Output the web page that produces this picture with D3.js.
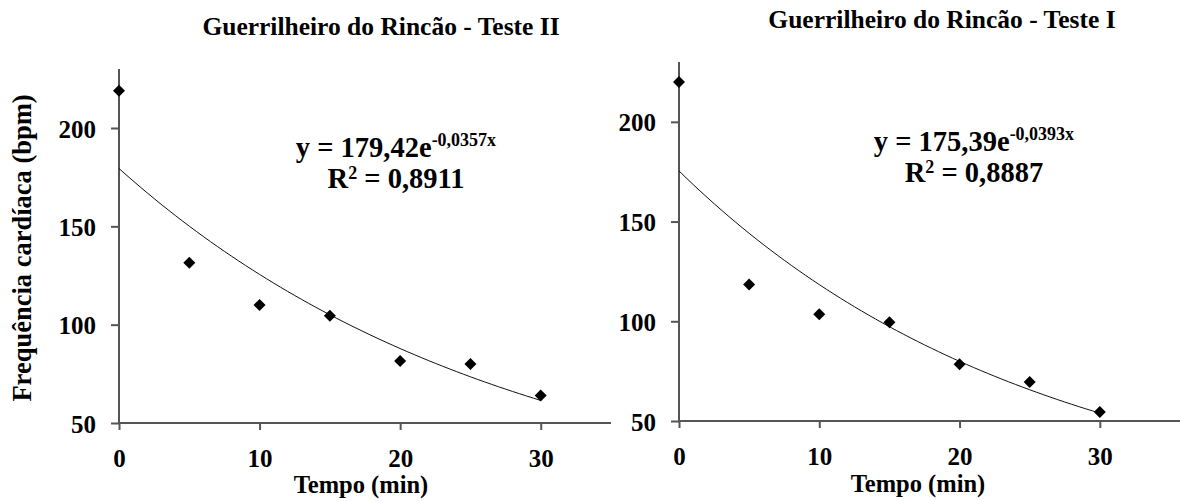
<!DOCTYPE html>
<html><head><meta charset="utf-8">
<script src="https://cdn.jsdelivr.net/npm/d3@7"></script>
<style>
body{margin:0;background:#fff;}
</style></head>
<body><svg id="c" width="1180" height="501"></svg>
<script>
// Data
const tempo = [0, 5, 10, 15, 20, 25, 30];
const testeII = [219, 131.5, 110, 104.5, 81.5, 80, 64];
const testeI = [220, 118.5, 103.5, 99.5, 78.5, 69.5, 54.5];
const yTicks = [50, 100, 150, 200];
const xTicks = [0, 10, 20, 30];
const fitII = {a: 179.42, b: -0.0357, aLbl: "179,42", bLbl: "-0,0357x", r2: "0,8911"};
const fitI = {a: 175.39, b: -0.0393, aLbl: "175,39", bLbl: "-0,0393x", r2: "0,8887"};

const FONT = "'Liberation Serif'";
const svg = d3.select("#c");
const axisColor = "#555";

function styleText(sel, size) {
  return sel.style("font-family", FONT).style("font-weight", "bold")
    .style("font-size", size + "px").attr("fill", "#000");
}

const panels = [
  {title: "Guerrilheiro do Rincão - Teste II", vals: testeII, fit: fitII,
   xr: [119, 611], xd: [0, 35], yr: [423, 69], titleX: 381, titleY: 35,
   eqX: 396, eqY1: 157, eqY2: 188, tickY: 467, xlabX: 361, xlabY: 493, ylab: true},
  {title: "Guerrilheiro do Rincão - Teste I", vals: testeI, fit: fitI,
   xr: [679, 1184], xd: [0, 36], yr: [421, 62], titleX: 942, titleY: 28,
   eqX: 974, eqY1: 151, eqY2: 182, tickY: 465, xlabX: 918, xlabY: 492, ylab: false}
];

panels.forEach(p => {
  const x = d3.scaleLinear().domain(p.xd).range(p.xr);
  const y = d3.scaleLinear().domain([50, 230]).range(p.yr);
  const g = svg.append("g");

  // y axis
  const ya = g.append("g").attr("transform", `translate(${p.xr[0]},0)`)
    .call(d3.axisLeft(y).tickValues(yTicks).tickSize(8).tickPadding(15).tickFormat(d3.format("d")));
  ya.select(".domain").attr("d", `M0,${p.yr[0]}V${p.yr[1]}`);
  ya.selectAll("path,line").attr("stroke", axisColor).attr("stroke-width", 2);
  styleText(ya.selectAll("text"), 25).attr("dy", "0.36em");

  // x axis
  const xa = g.append("g").attr("transform", `translate(0,${p.yr[0]})`)
    .call(d3.axisBottom(x).tickValues(xTicks).tickSize(7).tickPadding(0).tickFormat(d3.format("d")));
  xa.select(".domain").attr("d", `M${p.xr[0]},0H${p.xr[1]}`);
  xa.selectAll("path,line").attr("stroke", axisColor).attr("stroke-width", 2);
  styleText(xa.selectAll("text"), 25).attr("y", p.tickY - p.yr[0]).attr("dy", 0);

  // trend line
  const xs = d3.range(0, 30.01, 0.5);
  g.append("path")
    .datum(xs)
    .attr("fill", "none").attr("stroke", "#111").attr("stroke-width", 1)
    .attr("d", d3.line().x(d => x(d)).y(d => y(p.fit.a * Math.exp(p.fit.b * d))));

  // points
  g.selectAll("path.pt").data(tempo.map((t, i) => [t, p.vals[i]])).join("path")
    .attr("class", "pt")
    .attr("d", d3.symbol(d3.symbolSquare, 72)())
    .attr("transform", d => `translate(${x(d[0])},${y(d[1])}) rotate(45)`)
    .attr("fill", "#000");

  // title
  styleText(svg.append("text"), 25.5).attr("x", p.titleX).attr("y", p.titleY)
    .attr("text-anchor", "middle").text(p.title);

  // equation
  const eq = styleText(svg.append("text"), 28.5).attr("x", p.eqX).attr("y", p.eqY1)
    .attr("text-anchor", "middle");
  eq.append("tspan").text(`y = ${p.fit.aLbl}e`);
  eq.append("tspan").style("font-size", "18px").attr("dy", -11).text(p.fit.bLbl);
  const r2 = styleText(svg.append("text"), 28.5).attr("x", p.eqX).attr("y", p.eqY2)
    .attr("text-anchor", "middle");
  r2.append("tspan").text("R");
  r2.append("tspan").style("font-size", "18px").attr("dy", -9).text("2");
  r2.append("tspan").attr("dy", 9).text(" = " + p.fit.r2);

  // x label
  styleText(svg.append("text"), 24.5).attr("x", p.xlabX).attr("y", p.xlabY)
    .attr("text-anchor", "middle").text("Tempo (min)");

  if (p.ylab) {
    styleText(svg.append("text"), 26.5).attr("transform", "translate(31,248) rotate(-90)")
      .attr("text-anchor", "middle").text("Frequência cardíaca (bpm)");
  }
});
</script></body></html>
